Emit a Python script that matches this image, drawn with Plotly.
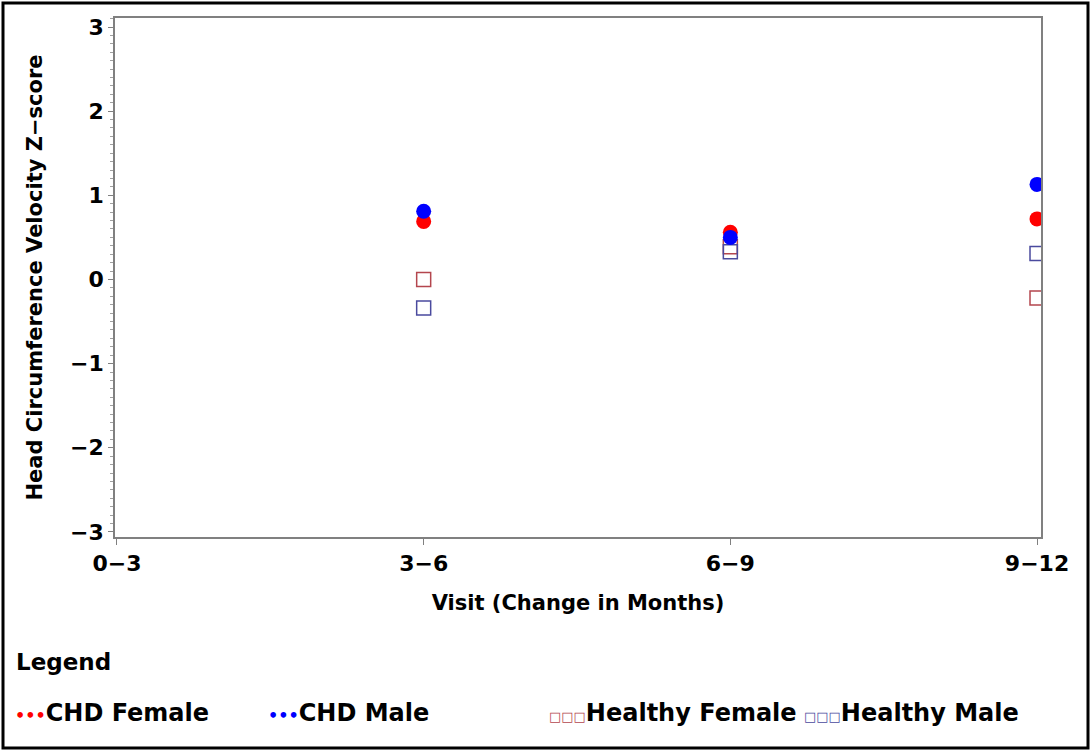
import plotly.graph_objects as go

# ---- data ----
visit_labels = ["0\u22123", "3\u22126", "6\u22129", "9\u221212"]
visit_pos = [1, 2, 3]          # positions of 3-6, 6-9, 9-12 on the category index axis
chd_female = [0.69, 0.56, 0.72]
chd_male = [0.81, 0.50, 1.13]
healthy_female = [0.00, 0.39, -0.22]
healthy_male = [-0.34, 0.33, 0.31]
y_ticks = [-3, -2, -1, 0, 1, 2, 3]

FONT = "DejaVu Sans, Liberation Sans, sans-serif"

fig = go.Figure()
fig.add_trace(go.Scatter(x=visit_pos, y=healthy_female, mode="markers", name="Healthy Female",
                         marker=dict(symbol="square-open", size=14, color="#B4464E", line=dict(width=1.5))))
fig.add_trace(go.Scatter(x=visit_pos, y=healthy_male, mode="markers", name="Healthy Male",
                         marker=dict(symbol="square-open", size=14, color="#4A4A9E", line=dict(width=1.5))))
fig.add_trace(go.Scatter(x=visit_pos, y=chd_female, mode="markers", name="CHD Female",
                         marker=dict(symbol="circle", size=15, color="#FF0000")))
fig.add_trace(go.Scatter(x=visit_pos, y=chd_male, mode="markers", name="CHD Male",
                         marker=dict(symbol="circle", size=15, color="#0000FF")))

L, R, T, B = 115, 50, 18, 214
W, H = 1091, 751
pw, ph = W - L - R, H - T - B

def px(xp):
    return (xp - L) / pw

def py(yp):
    return (H - B - yp) / ph

fig.update_layout(
    width=W, height=H,
    margin=dict(l=L, r=R, t=T, b=B),
    paper_bgcolor="white", plot_bgcolor="white",
    showlegend=False,
    font=dict(family=FONT, size=21, color="black", weight="bold"),
)
fig.update_xaxes(
    range=[-0.0065, 3.013], tickmode="array", tickvals=list(range(len(visit_labels))),
    ticktext=visit_labels, showgrid=False, zeroline=False,
    showline=True, linecolor="#808080", linewidth=1.5, mirror=True,
    ticks="outside", ticklen=6, tickcolor="#808080", tickwidth=1,
    tickfont=dict(size=22, weight="bold"),
    title=dict(text="Visit (Change in Months)", font=dict(size=21, weight="bold"), standoff=20),
)
fig.update_yaxes(
    range=[-3.06, 3.107], tickmode="array", tickvals=y_ticks,
    showgrid=False, zeroline=False,
    showline=True, linecolor="#808080", linewidth=1.5, mirror=True,
    ticks="outside", ticklen=5, tickcolor="#808080", tickwidth=1,
    minor=dict(dtick=0.1, ticks="outside", ticklen=3, tickcolor="#A0A0A0", tickwidth=1),
    tickfont=dict(size=22, weight="bold"),
    title=dict(text="Head Circumference Velocity Z\u2212score", font=dict(size=21, weight="bold"), standoff=22),
)

# outer border
fig.add_shape(type="rect", xref="paper", yref="paper",
              x0=px(3), x1=px(1088), y0=py(748), y1=py(3),
              line=dict(color="black", width=3))

# legend (drawn as text)
fig.add_annotation(xref="paper", yref="paper", x=px(14), y=py(662), xanchor="left", yanchor="middle",
                   text="Legend", showarrow=False, font=dict(size=23, weight="bold"))
legend_items = [
    (13, "#FF0000", "\u2022\u2022\u2022", "CHD Female"),
    (266, "#0000FF", "\u2022\u2022\u2022", "CHD Male"),
    (547, "#B4464E", "\u25a1\u25a1\u25a1", "Healthy Female"),
    (802, "#4A4A9E", "\u25a1\u25a1\u25a1", "Healthy Male"),
]
for x0, col, sym, label in legend_items:
    if sym.startswith("\u2022"):
        sym_html = f"<span style='color:{col};font-size:16px'>{sym}</span>"
    else:
        sym_html = f"<span style='color:{col};font-size:13px'>{sym}</span>"
    fig.add_annotation(xref="paper", yref="paper", x=px(x0), y=py(713), xanchor="left", yanchor="middle",
                       text=f"{sym_html}{label}",
                       showarrow=False, font=dict(size=24, weight="bold"))

fig.write_html("out.html", config={"displayModeBar": False},
               post_script="document.body.style.margin='0';")
